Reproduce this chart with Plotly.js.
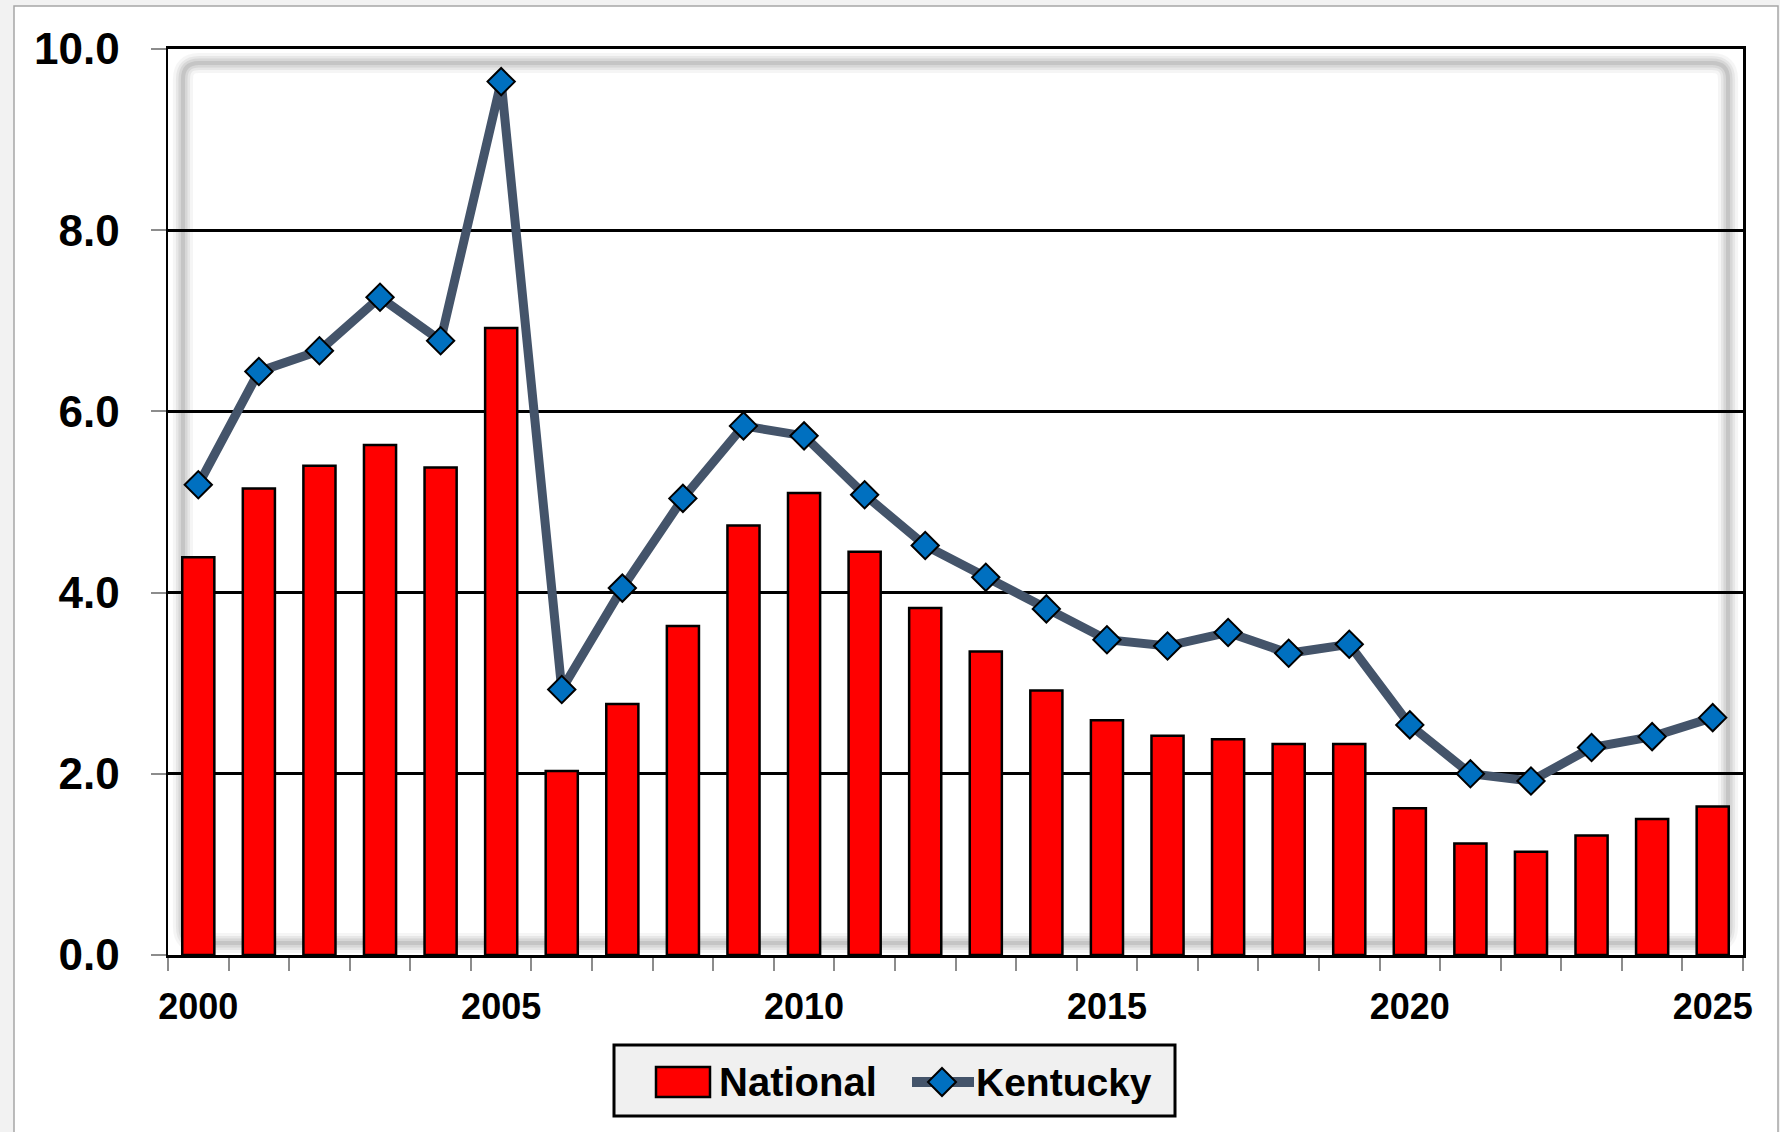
<!DOCTYPE html>
<html>
<head>
<meta charset="utf-8">
<script src="https://cdn.plot.ly/plotly-3.0.1.min.js"></script>
<style>
  html, body { margin: 0; padding: 0; background: #f2f2f2; }
  #chart { width: 1780px; height: 1132px; }
</style>
</head>
<body>
<div id="chart"></div>
<script>
// ---- Data ----
const years = [2000,2001,2002,2003,2004,2005,2006,2007,2008,2009,2010,2011,2012,2013,2014,2015,2016,2017,2018,2019,2020,2021,2022,2023,2024,2025];
const nationalValues = [4.39,5.15,5.40,5.63,5.38,6.92,2.03,2.77,3.63,4.74,5.10,4.45,3.83,3.35,2.92,2.59,2.42,2.38,2.33,2.33,1.62,1.23,1.14,1.32,1.50,1.64];
const kentuckyValues = [5.19,6.44,6.67,7.26,6.78,9.64,2.93,4.05,5.04,5.84,5.73,5.08,4.52,4.17,3.82,3.48,3.41,3.56,3.33,3.43,2.54,2.00,1.92,2.29,2.41,2.62];
const xTickYears = [2000,2005,2010,2015,2020,2025];
const yTickValues = [0,2,4,6,8,10];
const seriesNames = ["National","Kentucky"];

// ---- Layout geometry (pixels) ----
const W = 1780, H = 1132;
const L = 168, R = 1743, T = 49, B = 955;
const PW = R - L, PH = B - T;
const X = px => (px - L) / PW;
const Y = py => (B - py) / PH;

const FONT = "Liberation Sans, Arial, sans-serif";

function roundRectPath(x0, y0, x1, y1, r) {
  const p = (x, y) => X(x).toFixed(5) + "," + Y(y).toFixed(5);
  return "M" + p(x0 + r, y0) +
    " L" + p(x1 - r, y0) + " Q" + p(x1, y0) + " " + p(x1, y0 + r) +
    " L" + p(x1, y1 - r) + " Q" + p(x1, y1) + " " + p(x1 - r, y1) +
    " L" + p(x0 + r, y1) + " Q" + p(x0, y1) + " " + p(x0, y1 - r) +
    " L" + p(x0, y0 + r) + " Q" + p(x0, y0) + " " + p(x0 + r, y0) + " Z";
}

const shapes = [];
// outer white chart area with thin gray frame
shapes.push({type: "rect", xref: "paper", yref: "paper", layer: "below",
  x0: X(14), x1: X(1778), y0: Y(1145), y1: Y(6),
  fillcolor: "#ffffff", line: {color: "#a6a6a6", width: 1.5}});
// inner shadow of the plot area (blurred look via stacked strokes)
const shadowPath = roundRectPath(183, 63, 1728, 943, 16);
[[20, 0.07], [14, 0.11], [9, 0.15], [4, 0.2]].forEach(([w, o]) => {
  shapes.push({type: "path", xref: "paper", yref: "paper", layer: "below",
    path: shadowPath, line: {color: "#7f7f7f", width: w}, opacity: o});
});
// custom legend
shapes.push({type: "rect", xref: "paper", yref: "paper", layer: "above",
  x0: X(614), x1: X(1175), y0: Y(1116), y1: Y(1045),
  fillcolor: "#f0f0f0", line: {color: "#000000", width: 3}});
shapes.push({type: "rect", xref: "paper", yref: "paper", layer: "above",
  x0: X(656), x1: X(710), y0: Y(1097), y1: Y(1067),
  fillcolor: "#ff0000", line: {color: "#000000", width: 2.5}});
shapes.push({type: "line", xref: "paper", yref: "paper", layer: "above",
  x0: X(912), x1: X(974), y0: Y(1082), y1: Y(1082),
  line: {color: "#44546a", width: 10}});
(function () {
  const cx = 942, cy = 1082, d = 14;
  const p = (x, y) => X(x).toFixed(5) + "," + Y(y).toFixed(5);
  shapes.push({type: "path", xref: "paper", yref: "paper", layer: "above",
    path: "M" + p(cx, cy - d) + " L" + p(cx + d, cy) + " L" + p(cx, cy + d) + " L" + p(cx - d, cy) + " Z",
    fillcolor: "#0070c0", line: {color: "#000000", width: 2}});
})();

const annotations = [
  {xref: "paper", yref: "paper", x: X(717), y: Y(1082), xanchor: "left", yanchor: "middle",
   text: seriesNames[0], showarrow: false, font: {family: FONT, size: 40, color: "#000", weight: "bold"}},
  {xref: "paper", yref: "paper", x: X(974), y: Y(1082), xanchor: "left", yanchor: "middle",
   text: seriesNames[1], showarrow: false, font: {family: FONT, size: 39, color: "#000", weight: "bold"}}
];

const minorTicks = years.map(y => y - 0.5).concat([years[years.length - 1] + 0.5]);

const traces = [
  {type: "bar", name: seriesNames[0], x: years, y: nationalValues,
   marker: {color: "#ff0000", line: {color: "#000000", width: 2.5}},
   showlegend: false, hoverinfo: "skip"},
  {type: "scatter", mode: "lines+markers", name: seriesNames[1], x: years, y: kentuckyValues,
   line: {color: "#44546a", width: 9},
   marker: {symbol: "diamond", size: 21, color: "#0070c0", line: {color: "#000000", width: 2}},
   showlegend: false, hoverinfo: "skip"}
];

const layout = {
  width: W, height: H,
  margin: {l: L, r: W - R, t: T, b: H - B, pad: 0},
  paper_bgcolor: "#f2f2f2",
  plot_bgcolor: "rgba(0,0,0,0)",
  bargap: 0.47,
  showlegend: false,
  font: {family: FONT, color: "#000"},
  xaxis: {
    range: [years[0] - 0.5, years[years.length - 1] + 0.5],
    tickmode: "array", tickvals: xTickYears, ticktext: xTickYears.map(String),
    ticks: "", showgrid: false, zeroline: false,
    showline: true, linecolor: "#000000", linewidth: 3, mirror: true,
    tickfont: {family: FONT, size: 36, color: "#000", weight: "bold"},
    ticklabelstandoff: 18,
    minor: {tickmode: "array", tickvals: minorTicks, ticks: "outside", ticklen: 13,
            tickcolor: "#8c8c8c", tickwidth: 2, showgrid: false}
  },
  yaxis: {
    range: [0, 10], tickmode: "array", tickvals: yTickValues,
    ticktext: yTickValues.map(v => v.toFixed(1)),
    ticks: "outside", ticklen: 15, tickcolor: "#8c8c8c", tickwidth: 2,
    showgrid: true, gridcolor: "#000000", gridwidth: 2.8, zeroline: false,
    showline: true, linecolor: "#000000", linewidth: 2.5, mirror: true,
    tickfont: {family: FONT, size: 44, color: "#000", weight: "bold"},
    ticklabelstandoff: 22
  },
  shapes: shapes,
  annotations: annotations
};

Plotly.newPlot("chart", traces, layout, {staticPlot: true, displayModeBar: false});
</script>
</body>
</html>
